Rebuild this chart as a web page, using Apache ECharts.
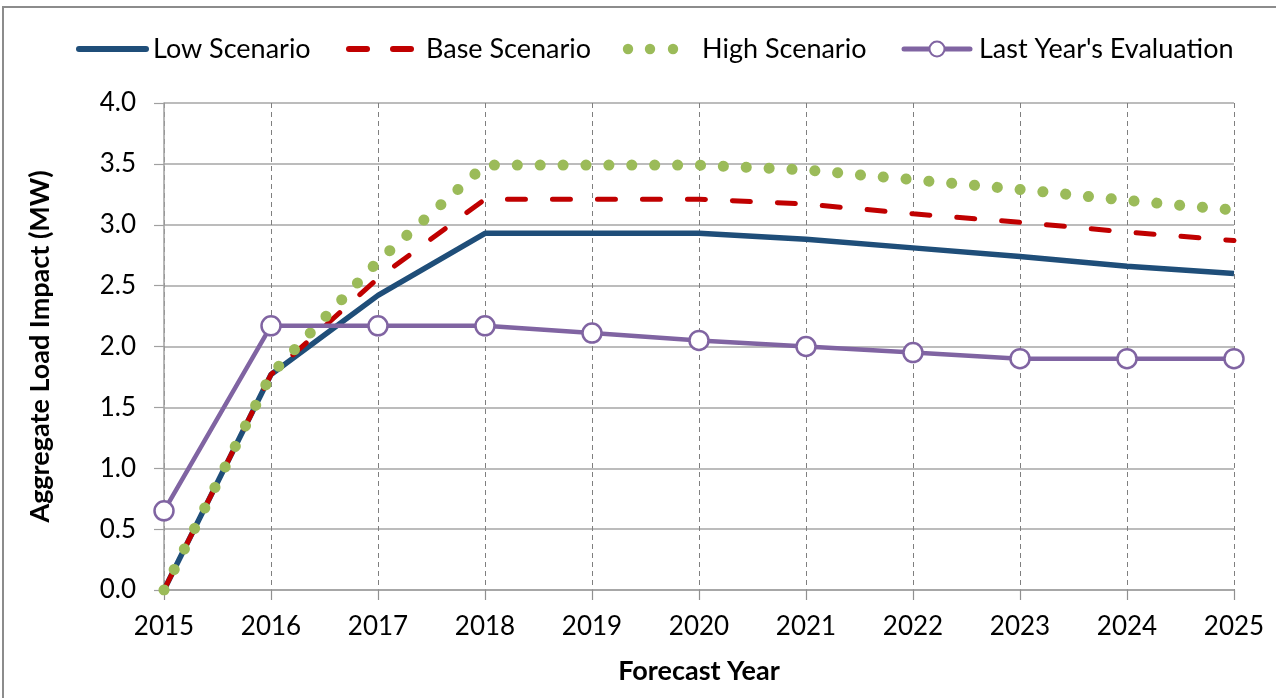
<!DOCTYPE html>
<html>
<head>
<meta charset="utf-8">
<script src="https://cdn.jsdelivr.net/npm/echarts@6/dist/echarts.min.js"></script>
<style>
  html, body { margin: 0; padding: 0; background: #fff; }
  #chart { width: 1276px; height: 698px; }
</style>
</head>
<body>
<div id="chart"></div>
<script>
// Forecast years and scenario values (MW)
const years = ['2015', '2016', '2017', '2018', '2019', '2020', '2021', '2022', '2023', '2024', '2025'];
const lowScenario  = [0, 1.77, 2.42, 2.93, 2.93, 2.93, 2.88, 2.81, 2.74, 2.66, 2.60];
const baseScenario = [0, 1.77, 2.56, 3.21, 3.21, 3.21, 3.17, 3.09, 3.02, 2.94, 2.87];
const highScenario = [0, 1.77, 2.70, 3.49, 3.49, 3.49, 3.45, 3.37, 3.29, 3.20, 3.12];
const lastYearEval = [0.65, 2.17, 2.17, 2.17, 2.11, 2.05, 2.00, 1.95, 1.90, 1.90, 1.90];
const seriesNames = ['Low Scenario', 'Base Scenario', 'High Scenario', "Last Year's Evaluation"];

const FONT = 'Lato, "Open Sans", sans-serif';
const BLUE = '#1F4E79', RED = '#C00000', GREEN = '#9BBB59', PURPLE = '#8064A2';

// Legend row drawn as graphic elements so each key shows the real stroke style
const LEG_Y = 49;
const legendText = (x, text) => ({
  type: 'text', x: x, y: LEG_Y,
  style: { text: text, fill: '#000', font: '27px ' + FONT, verticalAlign: 'middle', align: 'left' }
});
const legendGraphics = [
  { type: 'line', shape: { x1: 79, y1: LEG_Y, x2: 146, y2: LEG_Y }, style: { stroke: BLUE, lineWidth: 6, lineCap: 'round' } },
  legendText(153, seriesNames[0]),
  { type: 'line', shape: { x1: 349, y1: LEG_Y, x2: 367, y2: LEG_Y }, style: { stroke: RED, lineWidth: 6, lineCap: 'round' } },
  { type: 'line', shape: { x1: 393, y1: LEG_Y, x2: 411, y2: LEG_Y }, style: { stroke: RED, lineWidth: 6, lineCap: 'round' } },
  legendText(426, seriesNames[1]),
  { type: 'circle', shape: { cx: 628, cy: LEG_Y, r: 5.2 }, style: { fill: GREEN } },
  { type: 'circle', shape: { cx: 650, cy: LEG_Y, r: 5.2 }, style: { fill: GREEN } },
  { type: 'circle', shape: { cx: 673, cy: LEG_Y, r: 5.2 }, style: { fill: GREEN } },
  legendText(702, seriesNames[2]),
  { type: 'line', shape: { x1: 904, y1: LEG_Y, x2: 970, y2: LEG_Y }, style: { stroke: PURPLE, lineWidth: 5, lineCap: 'round' } },
  { type: 'circle', shape: { cx: 937, cy: LEG_Y, r: 7.5 }, style: { fill: '#fff', stroke: PURPLE, lineWidth: 2 } },
  legendText(979, seriesNames[3])
];

const chart = echarts.init(document.getElementById('chart'), null, { renderer: 'canvas' });

chart.setOption({
  animation: false,
  backgroundColor: '#fff',
  graphic: [{
    type: 'rect',
    shape: { x: 3, y: 7, width: 1290, height: 700 },
    style: { fill: 'none', stroke: '#8c8c8c', lineWidth: 2 },
    silent: true
  }].concat(legendGraphics),
  grid: { left: 164, right: 42, top: 103, bottom: 108, containLabel: false },
  xAxis: {
    type: 'category',
    data: years,
    boundaryGap: false,
    name: 'Forecast Year',
    nameLocation: 'middle',
    nameGap: 68,
    nameTextStyle: { fontFamily: FONT, fontSize: 27, fontWeight: 'bold', color: '#000' },
    axisLine: { lineStyle: { color: '#a0a0a0', width: 1.5 } },
    axisTick: { show: true, length: 10, alignWithLabel: true, lineStyle: { color: '#909090', width: 1.2 } },
    axisLabel: { fontFamily: FONT, fontSize: 26, color: '#000', margin: 24 },
    splitLine: { show: true, lineStyle: { color: '#7f7f7f', type: [5, 4], width: 1 } }
  },
  yAxis: {
    type: 'value',
    min: 0,
    max: 4,
    interval: 0.5,
    name: 'Aggregate Load Impact (MW)',
    nameLocation: 'middle',
    nameGap: 110,
    nameRotate: 90,
    nameTextStyle: { fontFamily: FONT, fontSize: 27, fontWeight: 'bold', color: '#000' },
    axisLine: { show: true, lineStyle: { color: '#a0a0a0', width: 1.5 } },
    axisTick: { show: true, length: 10, lineStyle: { color: '#a0a0a0', width: 1.2 } },
    axisLabel: { fontFamily: FONT, fontSize: 26, color: '#000', margin: 28, formatter: v => v.toFixed(1) },
    splitLine: { show: true, lineStyle: { color: '#a6a6a6', width: 1.5 } }
  },
  series: [
    {
      name: seriesNames[0],
      type: 'line',
      data: lowScenario,
      symbol: 'none',
      color: BLUE,
      lineStyle: { color: BLUE, width: 5.5 }
    },
    {
      name: seriesNames[1],
      type: 'line',
      data: baseScenario,
      symbol: 'none',
      color: RED,
      lineStyle: { color: RED, width: 5, type: [18, 27], cap: 'round' }
    },
    {
      name: seriesNames[2],
      type: 'line',
      data: highScenario,
      symbol: 'none',
      color: GREEN,
      lineStyle: { color: GREEN, width: 11, type: [0.1, 22.8], cap: 'round' }
    },
    {
      name: seriesNames[3],
      type: 'line',
      data: lastYearEval,
      symbol: 'circle',
      symbolSize: 19,
      color: PURPLE,
      itemStyle: { color: '#fff', borderColor: PURPLE, borderWidth: 2.5 },
      lineStyle: { color: PURPLE, width: 4.5 }
    }
  ]
});
</script>
</body>
</html>
